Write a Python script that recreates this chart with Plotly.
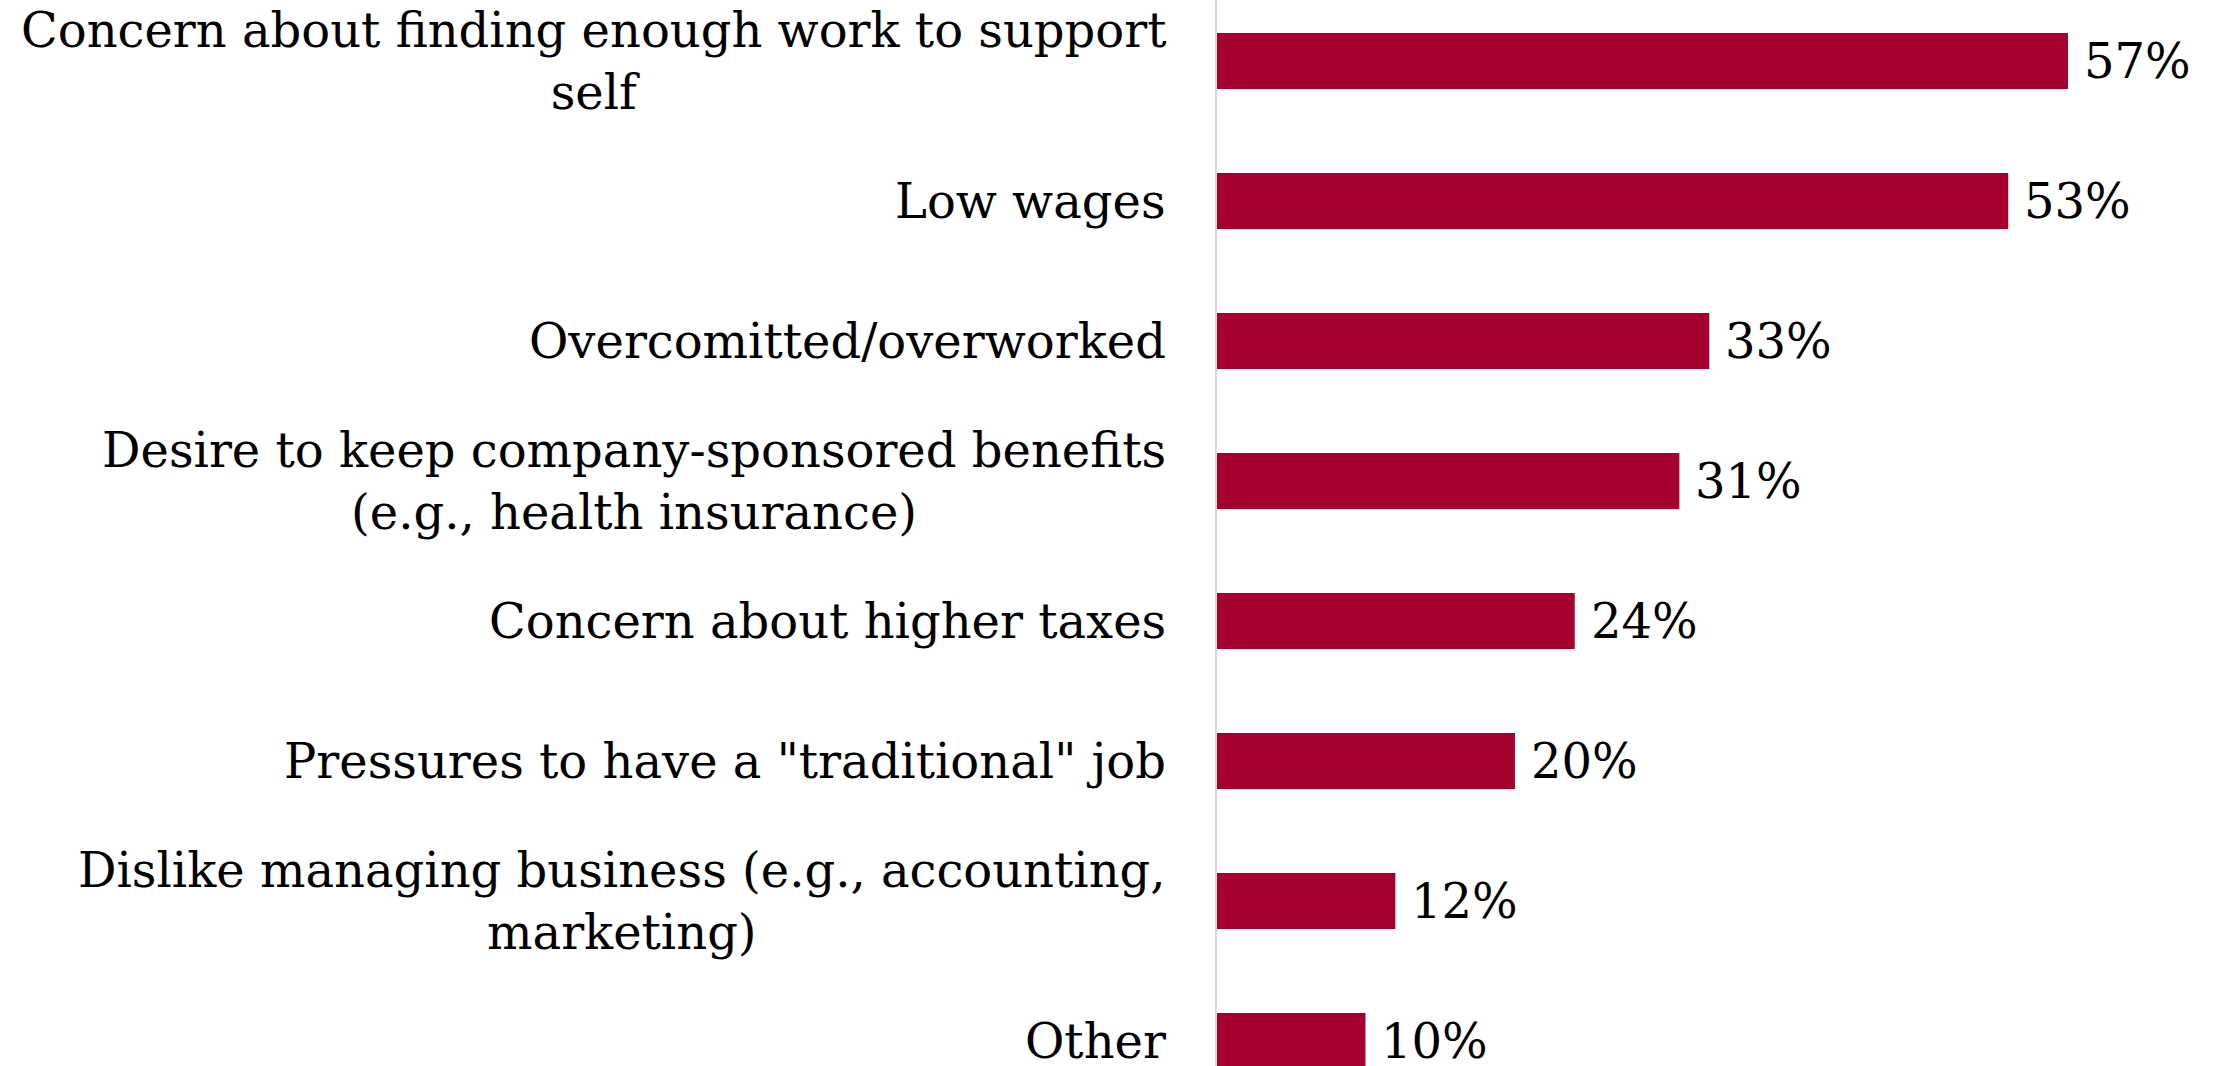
import plotly.graph_objects as go

categories = [
    "Concern about finding enough work to support<br>self",
    "Low wages",
    "Overcomitted/overworked",
    "Desire to keep company-sponsored benefits<br>(e.g., health insurance)",
    "Concern about higher taxes",
    "Pressures to have a \"traditional\" job",
    "Dislike managing business (e.g., accounting,<br>marketing)",
    "Other",
]
values = [57, 53, 33, 31, 24, 20, 12, 10]

BAR_COLOR = "#A6002E"
LABEL_FONT = "Rockwell, 'DejaVu Serif', serif"
VALUE_FONT = "'DejaVu Serif', serif"

idx = list(range(len(categories)))

fig = go.Figure(
    go.Bar(
        x=values,
        y=idx,
        orientation="h",
        marker=dict(color=BAR_COLOR, line=dict(width=0)),
        width=0.4,
        hoverinfo="skip",
    )
)

annotations = []
for i, (cat, v) in enumerate(zip(categories, values)):
    annotations.append(dict(
        x=0, xref="paper", y=i, yref="y",
        text=cat, showarrow=False,
        xanchor="right", yanchor="middle", align="center",
        xshift=-48,
        font=dict(family=LABEL_FONT, size=48, color="#000000"),
    ))
    annotations.append(dict(
        x=v, xref="x", y=i, yref="y",
        text=f"{v}%", showarrow=False,
        xanchor="left", yanchor="middle",
        xshift=14,
        font=dict(family=VALUE_FONT, size=48, color="#000000"),
    ))

fig.update_layout(
    width=2217, height=1066,
    margin=dict(l=1216, r=1, t=0, b=0),
    paper_bgcolor="white", plot_bgcolor="white",
    showlegend=False,
    annotations=annotations,
    xaxis=dict(range=[0, 66.9], visible=False, fixedrange=True),
    yaxis=dict(
        range=[7.179, -0.436],
        showticklabels=False, showgrid=False, zeroline=False,
        showline=False, ticks="",
    ),
    shapes=[dict(
        type="line", xref="paper", yref="paper",
        x0=0, x1=0, y0=0, y1=1,
        line=dict(color="#D9D9D9", width=2),
    )],
)

fig.write_html("out.html")
